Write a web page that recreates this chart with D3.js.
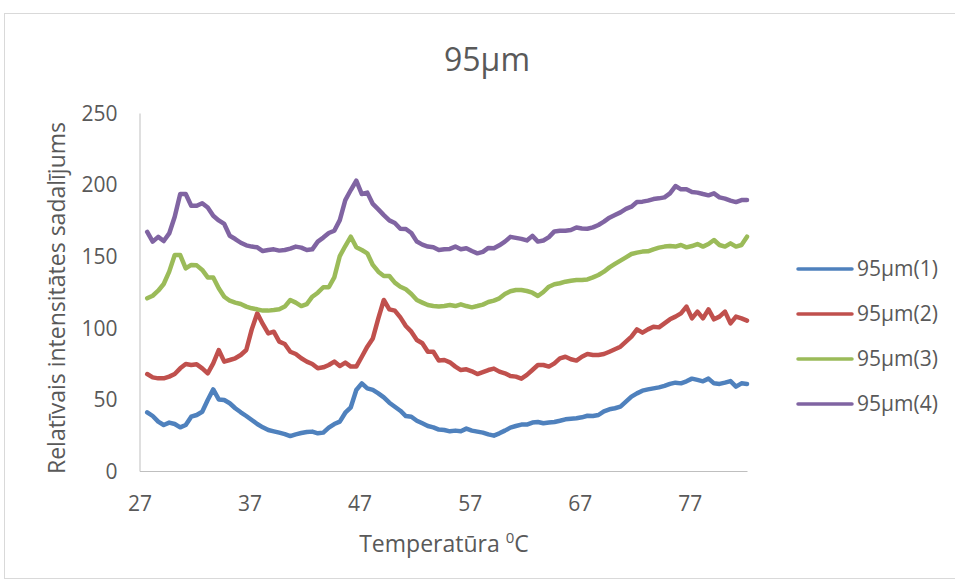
<!DOCTYPE html>
<html>
<head>
<meta charset="utf-8">
<script src="https://cdn.jsdelivr.net/npm/d3@7"></script>
<style>
  body { margin: 0; background: #fff; }
  svg text { font-family: "Open Sans", sans-serif; fill: #595959; }
  .axis path { stroke: #bfbfbf; }
  .axis line { display: none; }
  .series { fill: none; stroke-width: 4.5px; stroke-linejoin: round; stroke-linecap: round; }
</style>
</head>
<body>
<div id="chart"></div>
<script>
// Temperatures (°C), one reading every half degree
const temperatures = [
  27.7, 28.2, 28.7, 29.2, 29.7, 30.2, 30.7, 31.2, 31.7, 32.2,
  32.7, 33.2, 33.7, 34.2, 34.7, 35.2, 35.7, 36.2, 36.7, 37.2,
  37.7, 38.2, 38.7, 39.2, 39.7, 40.2, 40.7, 41.2, 41.7, 42.2,
  42.7, 43.2, 43.7, 44.2, 44.7, 45.2, 45.7, 46.2, 46.7, 47.2,
  47.7, 48.2, 48.7, 49.2, 49.7, 50.2, 50.7, 51.2, 51.7, 52.2,
  52.7, 53.2, 53.7, 54.2, 54.7, 55.2, 55.7, 56.2, 56.7, 57.2,
  57.7, 58.2, 58.7, 59.2, 59.7, 60.2, 60.7, 61.2, 61.7, 62.2,
  62.7, 63.2, 63.7, 64.2, 64.7, 65.2, 65.7, 66.2, 66.7, 67.2,
  67.7, 68.2, 68.7, 69.2, 69.7, 70.2, 70.7, 71.2, 71.7, 72.2,
  72.7, 73.2, 73.7, 74.2, 74.7, 75.2, 75.7, 76.2, 76.7, 77.2,
  77.7, 78.2, 78.7, 79.2, 79.7, 80.2, 80.7, 81.2, 81.7, 82.2
];

const series1 = [
  41.0, 38.4, 34.5, 32.1, 33.8, 32.8, 30.5, 32.1, 37.9, 39.1,
  41.4, 49.6, 57.0, 50.0, 49.6, 47.3, 43.8, 41.0, 38.4, 35.6,
  32.8, 30.5, 28.6, 27.7, 26.8, 25.8, 24.4, 25.6, 26.5, 27.2,
  27.5, 26.3, 26.8, 30.3, 32.8, 34.5, 40.7, 44.5, 56.6, 61.2,
  57.7, 56.6, 54.2, 51.4, 47.7, 44.9, 42.1, 38.4, 37.9, 35.1,
  33.3, 31.4, 30.5, 28.9, 28.6, 27.7, 28.2, 27.7, 29.6, 28.2,
  27.5, 26.8, 25.6, 24.7, 26.3, 28.2, 30.3, 31.4, 32.4, 32.4,
  33.8, 34.2, 33.3, 33.8, 34.2, 35.1, 36.1, 36.5, 36.8, 37.5,
  38.6, 38.4, 39.1, 41.7, 43.1, 43.8, 44.9, 48.4, 51.9, 54.2,
  56.1, 57.0, 57.7, 58.4, 59.4, 60.8, 61.7, 61.2, 62.6, 64.5,
  63.6, 62.6, 64.5, 61.2, 60.8, 61.7, 62.8, 58.9, 61.2, 60.8
];

const series2 = [
  67.7, 65.4, 64.7, 64.7, 65.9, 67.7, 71.7, 74.7, 74.0, 74.5,
  71.7, 68.2, 75.2, 84.5, 76.4, 77.5, 78.7, 81.0, 84.5, 98.9,
  110.1, 102.7, 96.1, 97.3, 90.3, 88.7, 83.3, 81.7, 78.7, 76.4,
  74.7, 71.7, 72.4, 74.0, 76.4, 73.3, 75.7, 72.9, 72.9, 79.8,
  86.8, 92.6, 106.6, 119.4, 112.9, 112.0, 107.3, 101.3, 97.3, 91.5,
  89.2, 83.3, 83.3, 77.1, 77.5, 75.9, 72.9, 70.5, 71.0, 69.6,
  67.7, 69.1, 70.5, 71.5, 69.4, 68.2, 66.3, 65.9, 64.5, 67.1,
  70.5, 74.0, 74.0, 72.9, 75.2, 78.7, 79.8, 78.0, 77.1, 79.8,
  81.7, 81.0, 81.0, 81.7, 83.3, 85.0, 86.8, 90.3, 93.8, 98.9,
  96.6, 98.9, 100.8, 100.3, 103.1, 105.9, 107.8, 110.1, 114.8, 106.6,
  111.3, 106.6, 112.9, 105.9, 107.8, 111.3, 103.1, 107.8, 106.6, 105.0
];

const series3 = [
  120.6, 122.4, 125.9, 130.6, 139.2, 150.8, 150.8, 141.5, 143.9, 143.6,
  140.4, 135.2, 135.2, 127.6, 121.7, 118.9, 117.6, 116.6, 114.8, 113.6,
  112.9, 112.0, 112.0, 112.4, 112.9, 114.8, 119.4, 117.6, 115.2, 116.6,
  121.7, 124.5, 128.3, 128.3, 135.2, 150.1, 157.1, 163.6, 156.2, 154.3,
  152.0, 143.9, 139.2, 136.2, 136.2, 131.5, 128.7, 126.9, 123.6, 119.4,
  117.6, 115.9, 115.2, 114.8, 115.2, 115.9, 115.2, 116.4, 115.2, 114.3,
  115.2, 116.2, 118.0, 119.0, 120.6, 123.6, 125.5, 126.4, 126.4, 125.7,
  124.5, 122.2, 125.0, 128.7, 130.4, 131.1, 132.2, 132.9, 133.4, 133.4,
  133.8, 135.2, 136.9, 139.2, 142.2, 144.6, 146.9, 149.2, 151.5, 152.5,
  153.2, 153.4, 154.8, 156.0, 156.7, 157.1, 156.7, 157.8, 156.2, 157.1,
  158.5, 156.7, 158.5, 161.3, 157.8, 156.7, 159.0, 156.7, 157.8, 163.6
];

const series4 = [
  167.0, 160.2, 163.5, 160.6, 165.9, 177.6, 193.4, 193.4, 185.2, 185.2,
  187.0, 184.0, 178.2, 175.0, 172.5, 164.3, 162.0, 159.4, 157.6, 156.7,
  156.2, 153.6, 154.3, 154.8, 153.9, 154.3, 155.3, 156.7, 156.0, 154.3,
  154.8, 160.2, 163.0, 166.2, 167.8, 175.2, 189.2, 196.2, 202.7, 193.4,
  194.4, 186.5, 182.7, 178.7, 175.0, 173.2, 169.2, 169.0, 166.2, 160.2,
  158.1, 156.7, 156.2, 154.3, 154.8, 155.1, 156.7, 154.8, 155.5, 153.6,
  152.0, 153.0, 155.8, 155.5, 157.6, 160.2, 163.5, 162.8, 162.1, 161.0,
  164.2, 160.2, 161.0, 163.3, 167.3, 167.7, 167.8, 168.3, 170.1, 169.4,
  169.2, 170.1, 171.8, 174.1, 176.9, 178.8, 180.6, 183.0, 184.6, 187.8,
  188.1, 188.8, 189.9, 190.4, 191.1, 193.9, 199.0, 196.7, 196.7, 194.8,
  194.4, 193.4, 192.5, 193.9, 191.1, 190.2, 188.8, 187.8, 189.2, 189.2
];

const seriesNames = ["95µm(1)", "95µm(2)", "95µm(3)", "95µm(4)"];
const seriesColors = ["#4f81bd", "#c0504d", "#9bbb59", "#8064a2"];
const xTicks = [27, 37, 47, 57, 67, 77];
const yTicks = [0, 50, 100, 150, 200, 250];

const width = 955, height = 581;
const margin = { top: 113, right: 208, bottom: 110, left: 139.5 };
const innerW = width - margin.left - margin.right;
const innerH = height - margin.top - margin.bottom;

const svg = d3.select("#chart").append("svg")
  .attr("width", width)
  .attr("height", height);

// chart frame
svg.append("rect")
  .attr("x", 4.5).attr("y", 13.5)
  .attr("width", 960).attr("height", 565)
  .attr("fill", "none")
  .attr("stroke", "#d9d9d9");

svg.append("text")
  .attr("x", 487).attr("y", 71)
  .attr("text-anchor", "middle")
  .style("font-size", "32px")
  .text("95µm");

const g = svg.append("g").attr("transform", `translate(${margin.left},${margin.top})`);

const x = d3.scaleLinear().domain([27, 82.2]).range([0, innerW]);
const y = d3.scaleLinear().domain([0, 250]).range([innerH, 0]);

g.append("g")
  .attr("class", "axis")
  .attr("transform", `translate(0,${innerH})`)
  .call(d3.axisBottom(x).tickValues(xTicks).tickSize(0).tickPadding(0).tickSizeOuter(0))
  .call(a => a.selectAll("text").attr("dy", null).attr("y", 40).style("font-size", "21px"));

g.append("g")
  .attr("class", "axis")
  .call(d3.axisLeft(y).tickValues(yTicks).tickSize(0).tickSizeOuter(0))
  .call(a => a.selectAll("text").attr("x", -22).attr("dy", "0.35em").style("font-size", "21px"));

const allSeries = [series1, series2, series3, series4];
const line = d3.line()
  .x((d, i) => x(temperatures[i]))
  .y(d => y(d));

allSeries.forEach((s, i) => {
  g.append("path")
    .datum(s)
    .attr("class", "series")
    .attr("stroke", seriesColors[i])
    .attr("d", line);
});

// axis titles
svg.append("text")
  .attr("x", 444).attr("y", 552)
  .attr("text-anchor", "middle")
  .style("font-size", "23px")
  .html('Temperatūra <tspan dy="-9" font-size="15px">0</tspan><tspan dy="9">C</tspan>');

svg.append("text")
  .attr("transform", "translate(65,298) rotate(-90)")
  .attr("text-anchor", "middle")
  .style("font-size", "23px")
  .text("Relatīvais intensitātes sadalījums");

// legend
const legend = svg.append("g").attr("transform", "translate(798,269)");
seriesNames.forEach((name, i) => {
  const row = legend.append("g").attr("transform", `translate(0,${i * 45})`);
  row.append("line")
    .attr("x1", 0).attr("x2", 54)
    .attr("stroke", seriesColors[i])
    .attr("stroke-width", 3.5)
    .attr("stroke-linecap", "round");
  row.append("text")
    .attr("x", 59).attr("dy", "0.35em")
    .style("font-size", "21px")
    .text(name);
});
</script>
</body>
</html>
